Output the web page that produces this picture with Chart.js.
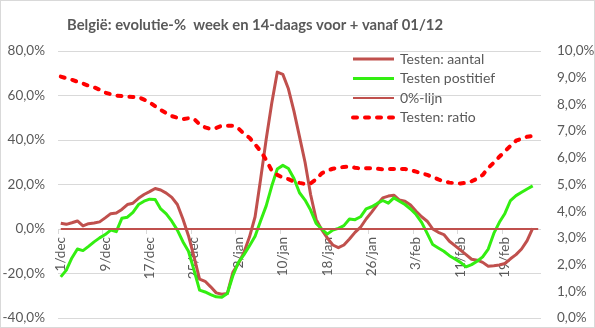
<!DOCTYPE html>
<html>
<head>
<meta charset="utf-8">
<script src="https://cdn.jsdelivr.net/npm/chart.js@4.4.1/dist/chart.umd.min.js"></script>
<style>
  body { margin: 0; background: #fff; }
  #wrap { width: 595px; height: 328px; }
</style>
</head>
<body>
<div id="wrap"><canvas id="evolutieChart" width="595" height="328"></canvas></div>
<script>
const TITLE = 'België: evolutie-%  week en 14-daags voor + vanaf 01/12';

// daily categories 1/dec .. 25/feb
const MONTH_NAMES = ['jan', 'feb', 'mrt', 'apr', 'mei', 'jun', 'jul', 'aug', 'sep', 'okt', 'nov', 'dec'];
const categories = [];
for (let d = new Date(2020, 11, 1); d <= new Date(2021, 1, 25); d.setDate(d.getDate() + 1)) {
    categories.push(d.getDate() + '/' + MONTH_NAMES[d.getMonth()]);
}

const tickLabels = ['1/dec', '9/dec', '17/dec', '25/dec', '2/jan', '10/jan', '18/jan', '26/jan', '3/feb', '11/feb', '19/feb'];

// evolutie-% aantal testen (linkeras)
const testenAantal = [
    2.6, 2.1, 2.8, 3.6, 1.4, 2.4, 2.7, 3.2, 5.0, 6.9,
    7.2, 8.8, 11.0, 11.6, 13.8, 15.5, 16.8, 18.2, 17.5, 16.1,
    14.2, 11.0, 4.5, -3.0, -12.5, -22.5, -23.5, -26.0, -28.7, -29.3,
    -29.0, -19.5, -15.5, -10.5, -3.5, 5.5, 22.5, 40.3, 56.5, 70.5,
    69.5, 63.0, 53.0, 41.5, 30.0, 15.5, 4.3, -0.3, -4.0, -7.2,
    -8.4, -7.2, -4.5, -1.5, 0.8, 4.5, 7.6, 11.0, 14.0, 14.8,
    15.2, 13.0, 12.5, 10.8, 8.0, 5.5, 3.5, 0.0, -1.5, -2.5,
    -5.5, -7.5, -9.5, -11.5, -13.6, -14.0, -15.0, -16.7, -16.5, -16.2,
    -15.5, -13.4, -11.5, -9.0, -5.2, 0.3
];

// evolutie-% positieve testen (linkeras)
const testenPositief = [
    -21.5, -18.5, -13.0, -9.0, -9.7, -7.8, -5.8, -4.0, -2.5, -0.5,
    -1.2, 4.8, 5.3, 7.5, 11.0, 12.5, 13.4, 13.3, 9.0, 6.8,
    3.5, -0.5, -5.7, -10.0, -18.5, -27.5, -28.3, -29.5, -30.5, -30.7,
    -29.0, -21.0, -15.0, -11.5, -7.5, -3.3, 3.7, 10.4, 19.3, 27.0,
    28.6, 27.2, 22.7, 16.3, 13.0, 8.5, 2.5, 0.0, -2.3, -0.5,
    0.3, 1.5, 4.5, 4.2, 5.5, 9.0, 10.0, 11.5, 12.8, 11.6,
    14.0, 12.5, 11.0, 9.0, 6.5, 3.0, -2.0, -7.0, -8.5, -10.0,
    -12.0, -13.5, -15.0, -17.0, -16.0, -14.5, -12.5, -9.0, -2.0, 3.0,
    7.0, 12.8, 15.0, 16.5, 18.0, 19.4
];

// positiviteitsratio in % (rechteras)
const testenRatio = [
    9.04, 8.98, 8.92, 8.85, 8.78, 8.70, 8.64, 8.55, 8.44, 8.38,
    8.33, 8.31, 8.29, 8.28, 8.27, 8.18, 8.08, 7.93, 7.79, 7.67,
    7.56, 7.50, 7.45, 7.48, 7.46, 7.25, 7.14, 7.08, 7.12, 7.20,
    7.20, 7.20, 7.10, 6.90, 6.75, 6.50, 6.25, 5.92, 5.52, 5.36,
    5.26, 5.20, 5.11, 5.06, 5.02, 5.04, 5.20, 5.42, 5.52, 5.59,
    5.63, 5.66, 5.67, 5.63, 5.60, 5.61, 5.61, 5.59, 5.57, 5.58,
    5.58, 5.58, 5.58, 5.54, 5.48, 5.42, 5.36, 5.28, 5.19, 5.12,
    5.07, 5.05, 5.04, 5.06, 5.12, 5.22, 5.36, 5.62, 5.82, 6.04,
    6.24, 6.45, 6.64, 6.72, 6.79, 6.82
];

const nulLijn = categories.map(() => 0);

const FONT = 'Lato';
const TEXT_COLOR = '#595959';
const GRID_COLOR = '#D9D9D9';

const pct = v => v.toFixed(1).replace('.', ',') + '%';

// fixed axis widths, no extra label padding above/below the plot
const fixWidth = w => s => {
    s.width = w;
    s.paddingTop = 0;
    s.paddingBottom = 0;
};

// title, legend and outer frame
const decorPlugin = {
    id: 'decor',
    afterDraw(chart) {
        const ctx = chart.ctx;
        ctx.save();
        ctx.strokeStyle = GRID_COLOR;
        ctx.lineWidth = 1;
        ctx.strokeRect(0.5, 0.5, chart.width - 1, chart.height - 1);

        ctx.fillStyle = TEXT_COLOR;
        ctx.font = 'bold 14.8px ' + FONT;
        ctx.textAlign = 'center';
        ctx.textBaseline = 'alphabetic';
        ctx.fillText(TITLE, 255, 30);

        ctx.font = '14px ' + FONT;
        ctx.textAlign = 'left';
        ctx.textBaseline = 'middle';
        chart.data.datasets.forEach((ds, i) => {
            const y = 59 + i * 19.5;
            ctx.beginPath();
            ctx.strokeStyle = ds.borderColor;
            ctx.lineWidth = ds.borderWidth;
            ctx.lineCap = ds.borderCapStyle || 'butt';
            ctx.setLineDash(ds.borderDash || []);
            ctx.moveTo(353, y);
            ctx.lineTo(394, y);
            ctx.stroke();
            ctx.setLineDash([]);
            ctx.fillText(ds.label, 400, y);
        });
        ctx.restore();
    }
};

Chart.defaults.font.family = FONT;
Chart.defaults.font.size = 13.5;
Chart.defaults.color = TEXT_COLOR;

new Chart(document.getElementById('evolutieChart'), {
    type: 'line',
    data: {
        labels: categories,
        datasets: [
            {
                label: 'Testen: aantal',
                data: testenAantal,
                borderColor: '#C0504D',
                borderWidth: 3,
                yAxisID: 'y',
                order: 4
            },
            {
                label: 'Testen postitief',
                data: testenPositief,
                borderColor: '#33EE11',
                borderWidth: 3,
                yAxisID: 'y',
                order: 3
            },
            {
                label: '0%-lijn',
                data: nulLijn,
                borderColor: '#C0504D',
                borderWidth: 2,
                yAxisID: 'y',
                order: 2
            },
            {
                label: 'Testen: ratio',
                data: testenRatio,
                borderColor: '#FF0000',
                borderWidth: 4,
                borderDash: [4, 8],
                borderCapStyle: 'round',
                yAxisID: 'y1',
                order: 1
            }
        ]
    },
    options: {
        responsive: false,
        animation: false,
        layout: { padding: { top: 51, bottom: 10, left: 0, right: 0 } },
        elements: {
            point: { radius: 0 },
            line: { tension: 0, borderJoinStyle: 'round' }
        },
        plugins: {
            legend: { display: false },
            tooltip: { enabled: false }
        },
        scales: {
            x: {
                type: 'category',
                offset: true,
                position: { y: 0 },
                afterFit: s => { s.height = 0; },
                border: { display: false },
                grid: {
                    offset: true,
                    drawOnChartArea: false,
                    tickLength: 5,
                    color: c => (c.index < categories.length && tickLabels.includes(categories[c.index])) ? GRID_COLOR : 'rgba(0,0,0,0)'
                },
                ticks: {
                    autoSkip: false,
                    minRotation: 90,
                    maxRotation: 90,
                    padding: 3,
                    callback: (v, i) => tickLabels.includes(categories[i]) ? categories[i] : ''
                }
            },
            y: {
                position: 'left',
                min: -40,
                max: 80,
                afterFit: fixWidth(58),
                border: { display: false },
                grid: { color: GRID_COLOR, drawTicks: false },
                ticks: { stepSize: 20, padding: 13, callback: pct }
            },
            y1: {
                position: 'right',
                min: 0,
                max: 10,
                afterFit: fixWidth(54),
                border: { display: false },
                grid: { drawOnChartArea: false, drawTicks: false },
                ticks: { stepSize: 1, padding: 16, callback: pct }
            }
        }
    },
    plugins: [decorPlugin]
});
</script>
</body>
</html>
